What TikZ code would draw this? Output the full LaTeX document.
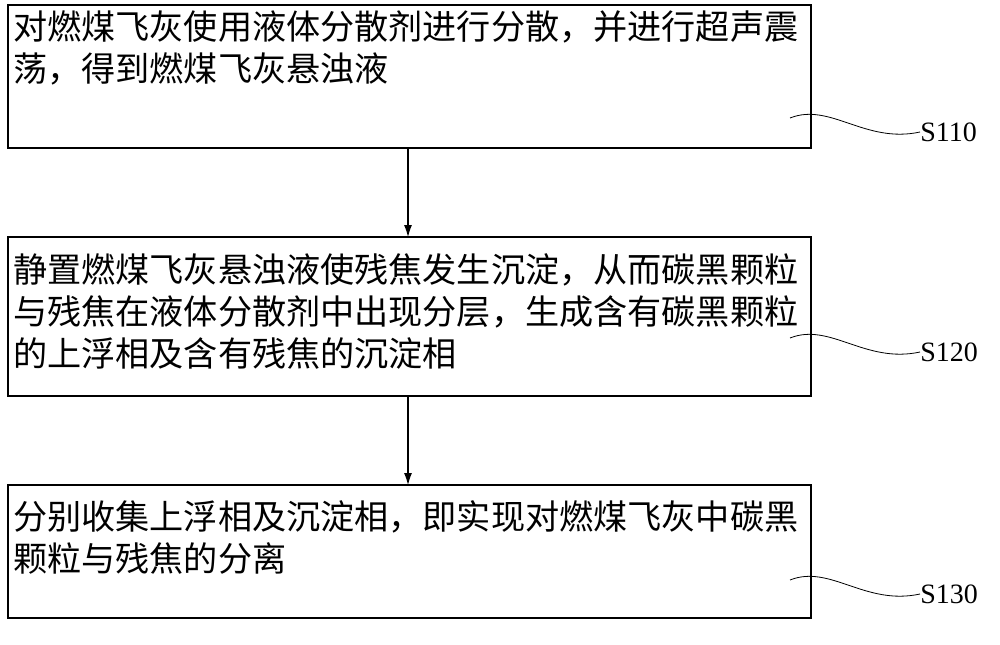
\documentclass[tikz,border=0pt]{standalone}
\usepackage{fontspec}
\setmainfont{Liberation Serif}
\newfontfamily\cjk{Noto Sans CJK SC}
\usetikzlibrary{arrows.meta}
\begin{document}
\begin{tikzpicture}[x=0.75pt,y=-0.75pt,
  txt/.style={anchor=north west,align=left,text width=610pt,font=\cjk\fontsize{25.6pt}{31.5pt}\selectfont,inner sep=0pt},
  lbl/.style={font=\fontsize{21pt}{24pt}\selectfont,anchor=west,inner sep=0pt},
  arr/.style={-{Latex[length=9pt,width=6pt]},line width=0.8pt}]
\useasboundingbox (0,0) rectangle (1000,644);
\draw[line width=0.8pt] (8,5) rectangle (811,148);
\draw[line width=0.8pt] (8,237) rectangle (811,396);
\draw[line width=0.8pt] (8,485) rectangle (811,618);
\coordinate (b1) at (408,148); \coordinate (t2) at (408,237);
\coordinate (b2) at (408,396); \coordinate (t3) at (408,485);
\node[txt] (n1) at (13,10) {对燃煤飞灰使用液体分散剂进行分散，并进行超声震\\荡，得到燃煤飞灰悬浊液};
\node[txt] (n2) at (13,253) {静置燃煤飞灰悬浊液使残焦发生沉淀，从而碳黑颗粒\\与残焦在液体分散剂中出现分层，生成含有碳黑颗粒\\的上浮相及含有残焦的沉淀相};
\node[txt] (n3) at (13,500) {分别收集上浮相及沉淀相，即实现对燃煤飞灰中碳黑\\颗粒与残焦的分离};
\draw[arr] (b1) -- (t2);
\draw[arr] (b2) -- (t3);
\node[lbl] (s1) at (920,132) {S110};
\node[lbl] (s2) at (920,352) {S120};
\node[lbl] (s3) at (920,594) {S130};
\foreach \y/\s in {132/s1,352/s2,594/s3}{
  \draw[line width=0.6pt] (790,\y-14) .. controls (830,\y-30) and (865,\y+12) .. (\s.west);
}
\end{tikzpicture}
\end{document}
